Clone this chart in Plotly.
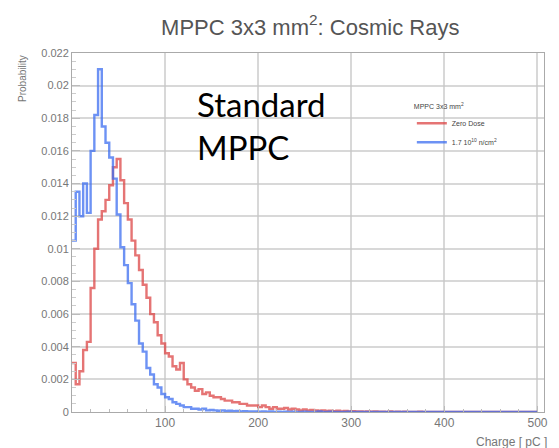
import plotly.graph_objects as go

BIN = 4
blue_vals = [
    0.0105, 0.0135, 0.0120, 0.0140, 0.0122, 0.0160, 0.0182, 0.0210, 0.0175, 0.0165,
    0.0156, 0.0143, 0.0121, 0.0101, 0.0090, 0.0079, 0.0066, 0.0056, 0.0042, 0.0037,
    0.0027, 0.0023, 0.0017, 0.0015, 0.0011, 0.0009, 0.0008, 0.0006, 0.0005, 0.0004,
    0.0003, 0.0003, 0.0002, 0.0002, 0.00015, 0.0002, 0.0001, 0.00012, 0.0001, 0.00008,
    0.0001, 0.00006, 0.00008, 0.00005, 0.00006, 0.00004, 0.00005, 0.00003, 0.00004, 0.00003,
    0.00002, 0.00004, 0.00002, 0.00003, 0.00001, 0.00002, 0.00001, 0.00002, 0.0, 0.00002,
    0.00001, 0.0, 0.00002, 0.0, 0.00001, 0.0, 0.00003, 0.0, 0.0, 0.00002,
    0.0, 0.00001, 0.0, 0.0, 0.00002, 0.0, 0.0, 0.0, 0.00001, 0.0,
    0.0, 0.0, 0.00001, 0.0, 0.0, 0.0, 0.0, 0.00001, 0.0, 0.0,
    0.0, 0.0, 0.0, 0.0, 0.0, 0.0, 0.0, 0.0, 0.0, 0.0,
    0.0, 0.0, 0.0, 0.0, 0.0, 0.0, 0.0, 0.0, 0.0, 0.0,
    0.0, 0.0, 0.0, 0.0, 0.0, 0.0, 0.0, 0.0, 0.0, 0.0,
    0.0, 0.0, 0.0, 0.0, 0.0,
]
red_vals = [
    0.0030, 0.0017, 0.0025, 0.0038, 0.0043, 0.0076, 0.0100, 0.0118, 0.0123, 0.0130,
    0.0139, 0.0150, 0.0155, 0.0142, 0.0128, 0.0118, 0.0105, 0.0096, 0.0087, 0.0078,
    0.0070, 0.0060, 0.0055, 0.0047, 0.0042, 0.0036, 0.0034, 0.0028, 0.0026, 0.0030,
    0.0020, 0.0017, 0.0015, 0.0013, 0.0014, 0.0011, 0.0012, 0.0010, 0.0009, 0.0009,
    0.0008, 0.0007, 0.0007, 0.0006, 0.0006, 0.0005, 0.0005, 0.0004, 0.0004, 0.0004,
    0.0003, 0.0004, 0.0003, 0.0002, 0.0003, 0.0002, 0.0002, 0.00025, 0.00015, 0.0002,
    0.00015, 0.0001, 0.00015, 0.0001, 0.00012, 0.0001, 0.00008, 0.0001, 0.00006, 0.00008,
    0.00005, 0.00008, 0.00004, 0.00006, 0.00003, 0.00005, 0.00003, 0.00004, 0.00002, 0.00004,
    0.00002, 0.00003, 0.00002, 0.00002, 0.00001, 0.00003, 0.00001, 0.00002, 0.00001, 0.00002,
    0.00001, 0.00001, 0.0, 0.00002, 0.00001, 0.0, 0.00001, 0.0, 0.00001, 0.0,
    0.00001, 0.0, 0.0, 0.00001, 0.0, 0.0, 0.00001, 0.0, 0.0, 0.0,
    0.00001, 0.0, 0.0, 0.0, 0.0, 0.00001, 0.0, 0.0, 0.0, 0.0,
    0.0, 0.0, 0.0, 0.0, 0.0,
]
charge = [i * BIN for i in range(len(red_vals) + 1)]

title_text = "MPPC 3x3 mm<sup>2</sup>: Cosmic Rays"
legend_title = "MPPC 3x3 mm<sup>2</sup>"
series_names = ["Zero Dose", "1.7 10<sup>10</sup> n/cm<sup>2</sup>"]
x_ticks = [100, 200, 300, 400, 500]
y_ticks = [0, 0.002, 0.004, 0.006, 0.008, 0.01, 0.012, 0.014, 0.016, 0.018, 0.02, 0.022]
y_labels = ["0", "0.002", "0.004", "0.006", "0.008", "0.01", "0.012", "0.014", "0.016", "0.018", "0.02", "0.022"]

fig = go.Figure()
fig.add_trace(go.Scatter(
    x=charge, y=red_vals + [red_vals[-1]], mode="lines", line_shape="hv",
    line=dict(color="rgba(220,70,70,0.75)", width=2.4), name=series_names[0]))
fig.add_trace(go.Scatter(
    x=charge, y=blue_vals + [blue_vals[-1]], mode="lines", line_shape="hv",
    line=dict(color="rgba(60,110,240,0.75)", width=2.4), name=series_names[1]))

grid = "rgba(200,200,200,0.7)"
fig.update_layout(
    width=559, height=448,
    margin=dict(l=72, r=11, t=53, b=36),
    paper_bgcolor="white", plot_bgcolor="white",
    title=dict(text=title_text, x=0.555, xanchor="center", y=0.94, yanchor="middle",
               font=dict(family="Liberation Sans, Arial", size=22, color="#555")),
    font=dict(family="Liberation Sans, Arial", color="#666"),
    showlegend=True,
    legend=dict(x=0.72, y=0.87, xanchor="left", yanchor="top",
                title=dict(text=legend_title, font=dict(size=7, color="#444")),
                font=dict(size=7, color="#444"), bgcolor="rgba(0,0,0,0)",
                itemwidth=30, tracegroupgap=0),
    xaxis=dict(range=[0, 507], tickvals=x_ticks, ticktext=[str(v) for v in x_ticks],
               showgrid=True, gridcolor=grid, gridwidth=1.5,
               ticks="inside", ticklen=6, tickcolor="#bbb",
               minor=dict(dtick=20, ticks="inside", ticklen=3, tickcolor="#bbb", showgrid=False),
               showline=True, linecolor="#aaa", mirror=True, zeroline=False,
               tickfont=dict(size=12, color="#777")),
    yaxis=dict(range=[0, 0.022], tickvals=y_ticks, ticktext=y_labels,
               showgrid=True, gridcolor=grid, gridwidth=1.5,
               ticks="inside", ticklen=8, tickcolor="#bbb",
               minor=dict(dtick=0.0005, ticks="inside", ticklen=4, tickcolor="#ccc", showgrid=False),
               showline=True, linecolor="#aaa", mirror=True, zeroline=False,
               tickfont=dict(size=11, color="#777")),
)

fig.add_annotation(text="Probability", xref="paper", yref="paper",
                   x=-0.105, y=1.0, xanchor="center", yanchor="top", textangle=-90,
                   showarrow=False, font=dict(size=10, color="#777"))
fig.add_annotation(text="Charge [ pC ]", xref="paper", yref="paper",
                   x=1.01, y=-0.058, xanchor="right", yanchor="top",
                   showarrow=False, font=dict(size=12, color="#777"))
fig.add_annotation(text="Standard<br>MPPC", xref="paper", yref="paper",
                   x=(196 - 72) / 476, y=(412 - 82) / 359, xanchor="left", yanchor="top",
                   align="left", showarrow=False,
                   font=dict(family="Lato, Open Sans", size=33, color="black"))

fig.write_html("out.html")
